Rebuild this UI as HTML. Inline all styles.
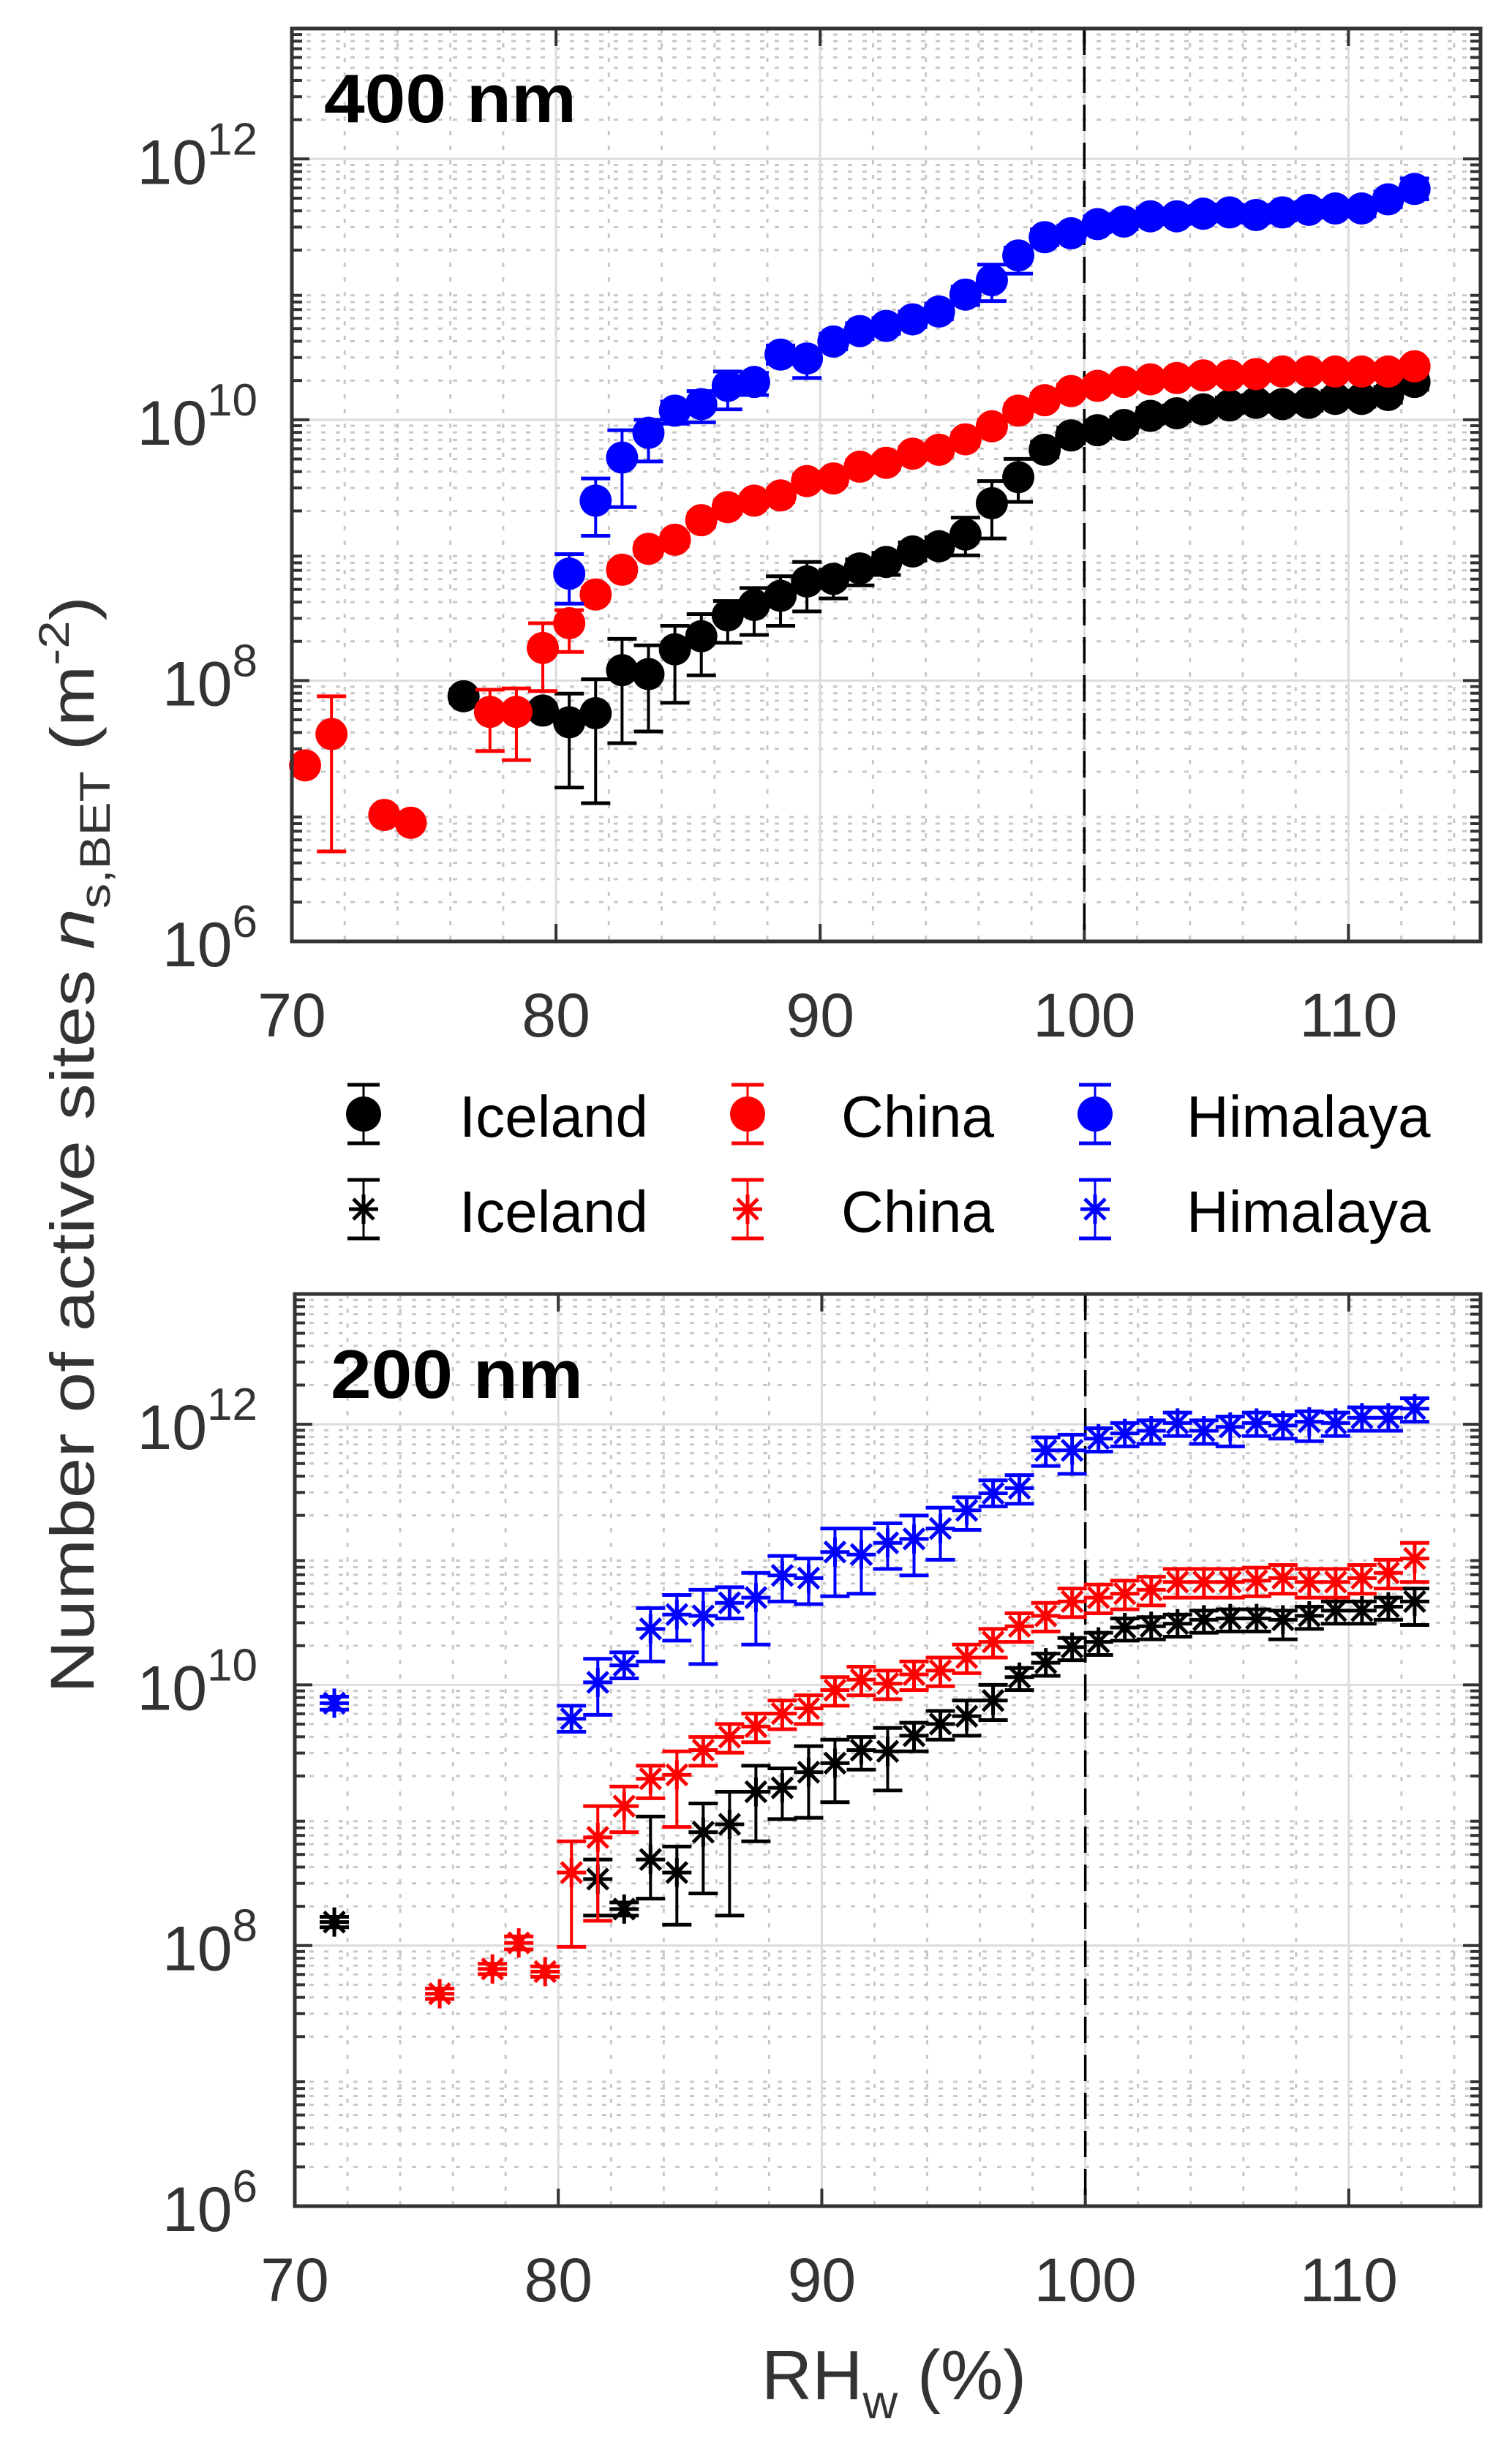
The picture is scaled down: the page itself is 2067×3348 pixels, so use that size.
<!DOCTYPE html>
<html><head><meta charset="utf-8"><style>
html,body{margin:0;padding:0;background:#fff;}
svg{display:block;font-family:"Liberation Sans",Arial,sans-serif;}
</style></head>
<body>
<svg id="chart" width="2067" height="3348" viewBox="0 0 2067 3348" xmlns="http://www.w3.org/2000/svg">
<text transform="translate(128,1565) rotate(-90)" text-anchor="middle" font-size="84" fill="#333" textLength="1500" lengthAdjust="spacingAndGlyphs">Number of active sites <tspan font-style="italic">n</tspan><tspan font-size="58" dy="22">s,BET</tspan><tspan dy="-22"> (m</tspan><tspan font-size="58" dy="-34">-2</tspan><tspan dy="34">)</tspan></text>
<text x="1222" y="3280" text-anchor="middle" font-size="96" fill="#333">RH<tspan font-size="66" dy="26">w</tspan><tspan dy="-26"> (%)</tspan></text>
</svg>
<script>
// ---------- data (log10 of n_s,BET) ----------
const xTicks = [70, 80, 90, 100, 110];
const yTickExps = [6, 8, 10, 12];
const seriesNames = ["Iceland", "China", "Himalaya"];

// 400 nm
const iceland400X = [76.5,79.5,80.5,81.5,82.5,83.5,84.5,85.5,86.5,87.5,88.5,89.5,90.5,91.5,92.5,93.5,94.5,95.5,96.5,97.5,98.5,99.5,100.5,101.5,102.5,103.5,104.5,105.5,106.5,107.5,108.5,109.5,110.5,111.5,112.5];
const iceland400Y = [7.88,7.77,7.68,7.75,8.08,8.05,8.24,8.34,8.50,8.58,8.65,8.76,8.78,8.86,8.91,8.99,9.03,9.12,9.36,9.56,9.77,9.88,9.92,9.96,10.03,10.05,10.08,10.11,10.13,10.12,10.13,10.16,10.16,10.19,10.29];
const iceland400Hi = [.05,.05,.22,.26,.24,.22,.18,.17,.11,.13,.15,.15,.07,.07,.07,.07,.07,.13,.17,.14,.06,.06,.06,.06,.06,.06,.06,.06,.06,.06,.06,.06,.06,.06,.06];
const iceland400Lo = [.05,.05,.50,.69,.56,.44,.41,.30,.21,.23,.23,.23,.15,.13,.10,.07,.07,.16,.27,.19,.06,.06,.06,.06,.06,.06,.06,.06,.06,.06,.06,.06,.06,.06,.06];

const china400X = [70.5,71.5,73.5,74.5,77.5,78.5,79.5,80.5,81.5,82.5,83.5,84.5,85.5,86.5,87.5,88.5,89.5,90.5,91.5,92.5,93.5,94.5,95.5,96.5,97.5,98.5,99.5,100.5,101.5,102.5,103.5,104.5,105.5,106.5,107.5,108.5,109.5,110.5,111.5,112.5];
const china400Y = [7.35,7.59,6.97,6.91,7.76,7.76,8.25,8.44,8.66,8.85,9.01,9.08,9.23,9.33,9.38,9.42,9.53,9.55,9.64,9.67,9.74,9.77,9.85,9.95,10.07,10.15,10.22,10.26,10.29,10.31,10.32,10.34,10.34,10.35,10.37,10.37,10.37,10.37,10.37,10.41];
const china400Hi = [0,.29,0,0,.17,.18,.19,.10,.05,.05,.05,.05,.05,.05,.05,.05,.05,.05,.05,.05,.05,.05,.05,.05,.05,.05,.05,.05,.05,.05,.05,.05,.05,.05,.05,.05,.05,.05,.05,.05];
const china400Lo = [0,.90,0,0,.30,.37,.33,.22,.05,.05,.05,.05,.05,.05,.05,.05,.05,.05,.05,.05,.05,.05,.05,.05,.05,.05,.05,.05,.05,.05,.05,.05,.05,.05,.05,.05,.05,.05,.05,.05];

const himalaya400X = [80.5,81.5,82.5,83.5,84.5,85.5,86.5,87.5,88.5,89.5,90.5,91.5,92.5,93.5,94.5,95.5,96.5,97.5,98.5,99.5,100.5,101.5,102.5,103.5,104.5,105.5,106.5,107.5,108.5,109.5,110.5,111.5,112.5];
const himalaya400Y = [8.82,9.38,9.71,9.90,10.07,10.12,10.26,10.29,10.50,10.47,10.60,10.68,10.72,10.77,10.83,10.96,11.07,11.26,11.40,11.43,11.50,11.52,11.56,11.56,11.58,11.59,11.57,11.59,11.61,11.62,11.62,11.69,11.77];
const himalaya400Hi = [.15,.17,.21,.10,.07,.10,.11,.07,.07,.07,.06,.06,.06,.06,.06,.06,.12,.06,.06,.06,.06,.06,.06,.06,.06,.06,.06,.06,.06,.06,.06,.06,.08];
const himalaya400Lo = [.23,.27,.38,.22,.10,.14,.18,.10,.07,.15,.06,.06,.06,.06,.06,.08,.16,.14,.06,.06,.06,.06,.06,.06,.06,.06,.06,.06,.06,.06,.06,.06,.08];

// 200 nm
const iceland200X = [71.5,81.5,82.5,83.5,84.5,85.5,86.5,87.5,88.5,89.5,90.5,91.5,92.5,93.5,94.5,95.5,96.5,97.5,98.5,99.5,100.5,101.5,102.5,103.5,104.5,105.5,106.5,107.5,108.5,109.5,110.5,111.5,112.5];
const iceland200Y = [8.18,8.51,8.28,8.66,8.56,8.87,8.93,9.18,9.21,9.33,9.40,9.50,9.49,9.61,9.70,9.76,9.88,10.06,10.17,10.29,10.33,10.44,10.45,10.47,10.50,10.51,10.51,10.50,10.53,10.57,10.57,10.60,10.64];
const iceland200Hi = [.04,.15,.05,.33,.20,.22,.25,.20,.15,.20,.18,.10,.18,.10,.10,.12,.12,.07,.07,.07,.07,.07,.07,.07,.07,.07,.07,.07,.07,.07,.07,.07,.10];
const iceland200Lo = [.04,.28,.05,.30,.40,.47,.70,.38,.24,.35,.30,.15,.30,.12,.12,.15,.15,.10,.10,.10,.10,.10,.10,.10,.10,.10,.10,.15,.10,.10,.10,.10,.18];

const china200X = [75.5,77.5,78.5,79.5,80.5,81.5,82.5,83.5,84.5,85.5,86.5,87.5,88.5,89.5,90.5,91.5,92.5,93.5,94.5,95.5,96.5,97.5,98.5,99.5,100.5,101.5,102.5,103.5,104.5,105.5,106.5,107.5,108.5,109.5,110.5,111.5,112.5];
const china200Y = [7.63,7.82,8.02,7.80,8.56,8.83,9.07,9.28,9.31,9.50,9.60,9.68,9.78,9.82,9.96,10.04,10.01,10.08,10.11,10.21,10.33,10.45,10.53,10.64,10.67,10.70,10.73,10.79,10.79,10.79,10.80,10.82,10.79,10.79,10.82,10.86,10.97];
const china200Hi = [.04,.04,.05,.04,.24,.24,.15,.10,.18,.10,.10,.10,.10,.10,.10,.10,.10,.10,.10,.10,.10,.10,.10,.10,.10,.10,.10,.10,.10,.10,.10,.10,.10,.10,.10,.10,.12];
const china200Lo = [.04,.04,.05,.04,.57,.64,.20,.15,.40,.12,.12,.12,.12,.12,.12,.12,.12,.12,.12,.12,.12,.12,.12,.12,.12,.12,.12,.12,.12,.12,.12,.12,.12,.12,.12,.12,.18];

const himalaya200X = [71.5,80.5,81.5,82.5,83.5,84.5,85.5,86.5,87.5,88.5,89.5,90.5,91.5,92.5,93.5,94.5,95.5,96.5,97.5,98.5,99.5,100.5,101.5,102.5,103.5,104.5,105.5,106.5,107.5,108.5,109.5,110.5,111.5,112.5];
const himalaya200Y = [9.86,9.74,10.02,10.15,10.43,10.54,10.53,10.63,10.67,10.84,10.82,11.02,11.00,11.09,11.12,11.20,11.34,11.47,11.51,11.80,11.80,11.89,11.93,11.95,12.01,11.95,11.98,12.01,11.99,12.02,12.01,12.05,12.05,12.12];
const himalaya200Hi = [.05,.10,.18,.10,.16,.15,.20,.12,.19,.15,.15,.18,.20,.15,.18,.16,.10,.10,.10,.10,.12,.08,.08,.08,.08,.08,.08,.08,.08,.08,.08,.08,.08,.08];
const himalaya200Lo = [.05,.10,.25,.10,.25,.20,.37,.12,.36,.20,.20,.34,.30,.20,.28,.24,.15,.10,.12,.12,.18,.10,.10,.10,.10,.10,.15,.10,.10,.15,.10,.10,.10,.10];

// ---------- drawing ----------
const NS = "http://www.w3.org/2000/svg";
const svg = document.getElementById("chart");
function mk(tag, attrs, parent) {
  const e = document.createElementNS(NS, tag);
  for (const k in attrs) e.setAttribute(k, attrs[k]);
  (parent || svg).appendChild(e);
  return e;
}
const AX = "#333";
const colors = ["#000000", "#ff0000", "#0000ff"];

function drawPanel(p) {
  const g = mk("g", {});
  
  
  const xS = v => p.left + (v - 70) / 45 * (p.right - p.left);
  const yS = v => p.bottom - (v - 6) / 7 * (p.bottom - p.top);
  for (let d = 6; d < 13; d++) for (let m = 2; m <= 9; m++) {
    const y = yS(d + Math.log10(m));
    const l = mk("line", {x1: p.left, x2: p.right, y1: y, y2: y, stroke: "#c8c8c8", "stroke-width": 3, "stroke-dasharray": "6 14"}, g);
    
    
    mk("line", {x1: p.left, x2: p.left + 14, y1: y, y2: y, stroke: AX, "stroke-width": 4}, g);
    mk("line", {x1: p.right, x2: p.right - 14, y1: y, y2: y, stroke: AX, "stroke-width": 4}, g);
  }
  for (let x = 72; x < 115; x += 2) {
    if (x % 10 === 0) continue;
    const X = xS(x);
    const l = mk("line", {x1: X, x2: X, y1: p.top, y2: p.bottom, stroke: "#c8c8c8", "stroke-width": 3, "stroke-dasharray": "6 14"}, g);
    
    
  }
  yTickExps.forEach(e => {
    const y = yS(e);
    const l = mk("line", {x1: p.left, x2: p.right, y1: y, y2: y, stroke: "#dcdcdc", "stroke-width": 3}, g);
    
    
    mk("line", {x1: p.left, x2: p.left + 24, y1: y, y2: y, stroke: AX, "stroke-width": 4}, g);
    mk("line", {x1: p.right, x2: p.right - 24, y1: y, y2: y, stroke: AX, "stroke-width": 4}, g);
    const t = mk("text", {x: 352, y: y + 34, "text-anchor": "end", "font-size": 86, fill: AX}, g);
    
    
    t.innerHTML = '10<tspan font-size="62" dy="-40">' + e + '</tspan>';
  });
  xTicks.forEach(v => {
    const X = xS(v);
    const l = mk("line", {x1: X, x2: X, y1: p.top, y2: p.bottom, stroke: "#dcdcdc", "stroke-width": 3}, g);
    
    
    mk("line", {x1: X, x2: X, y1: p.bottom, y2: p.bottom - 24, stroke: AX, "stroke-width": 4}, g);
    mk("line", {x1: X, x2: X, y1: p.top, y2: p.top + 24, stroke: AX, "stroke-width": 4}, g);
    const t = mk("text", {x: X, y: p.bottom + 130, "text-anchor": "middle", "font-size": 84, fill: AX}, g);
    
    
    t.textContent = v;
  });
  const dl = mk("line", {x1: xS(100), x2: xS(100), y1: p.top, y2: p.bottom, stroke: "#000", "stroke-width": 3.5, "stroke-dasharray": "36 16"}, g);
  
  
  p.series.forEach((s, si) => {
    const sg = mk("g", {}, g);
    
    
    const c = colors[si];
    s.x.forEach((xv, i) => {
      const X = xS(xv), Y = yS(s.y[i]);
      const yHi = yS(s.y[i] + s.hi[i]), yLo = yS(s.y[i] - s.lo[i]);
      if (s.hi[i] > 0 || s.lo[i] > 0) {
        mk("line", {x1: X, x2: X, y1: yHi, y2: yLo, stroke: c, "stroke-width": 4}, sg);
        mk("line", {x1: X - 20, x2: X + 20, y1: yHi, y2: yHi, stroke: c, "stroke-width": 5}, sg);
        mk("line", {x1: X - 20, x2: X + 20, y1: yLo, y2: yLo, stroke: c, "stroke-width": 5}, sg);
      }
      if (p.marker === "circle") {
        const m = mk("circle", {cx: X, cy: Y, r: 22, fill: c}, sg);
        
        
      } else {
        const m = mk("path", {d: `M${X-20},${Y}H${X+20}M${X},${Y-20}V${Y+20}M${X-14},${Y-14}L${X+14},${Y+14}M${X-14},${Y+14}L${X+14},${Y-14}`, stroke: c, "stroke-width": 5, fill: "none"}, sg);
        
        
      }
    });
  });
  const fr = mk("rect", {x: p.left, y: p.top, width: p.right - p.left, height: p.bottom - p.top, fill: "none", stroke: AX, "stroke-width": 5}, g);
  
  
  const lab = mk("text", {x: p.labelX, y: p.labelY, "font-size": 94, "font-weight": "bold", fill: "#000", textLength: 345, lengthAdjust: "spacingAndGlyphs"}, g);
  
  
  lab.textContent = p.label;
}

drawPanel({name: "panel-400nm", left: 399, right: 2024, top: 39, bottom: 1287, marker: "circle", label: "400 nm", labelX: 443, labelY: 167,
  series: [
    {x: iceland400X, y: iceland400Y, hi: iceland400Hi, lo: iceland400Lo},
    {x: china400X, y: china400Y, hi: china400Hi, lo: china400Lo},
    {x: himalaya400X, y: himalaya400Y, hi: himalaya400Hi, lo: himalaya400Lo}]});
drawPanel({name: "panel-200nm", left: 403, right: 2024, top: 1769, bottom: 3016, marker: "star", label: "200 nm", labelX: 452, labelY: 1911,
  series: [
    {x: iceland200X, y: iceland200Y, hi: iceland200Hi, lo: iceland200Lo},
    {x: china200X, y: china200Y, hi: china200Hi, lo: china200Lo},
    {x: himalaya200X, y: himalaya200Y, hi: himalaya200Hi, lo: himalaya200Lo}]});

const legend = mk("g", {});


const legMX = [497, 1022, 1497], legTX = [628, 1150, 1622], legRowY = [1523, 1653];
legRowY.forEach((ry, r) => {
  seriesNames.forEach((n, i) => {
    const c = colors[i], X = legMX[i];
    const eg = mk("g", {}, legend);
    
    
    mk("line", {x1: X, x2: X, y1: ry - 40, y2: ry + 40, stroke: c, "stroke-width": 3}, eg);
    mk("line", {x1: X - 22, x2: X + 22, y1: ry - 40, y2: ry - 40, stroke: c, "stroke-width": 5}, eg);
    mk("line", {x1: X - 22, x2: X + 22, y1: ry + 40, y2: ry + 40, stroke: c, "stroke-width": 5}, eg);
    if (r === 0) mk("ellipse", {cx: X, cy: ry, rx: 24, ry: 24, fill: c}, eg);
    else mk("path", {d: `M${X-20},${ry}H${X+20}M${X},${ry-20}V${ry+20}M${X-14},${ry-14}L${X+14},${ry+14}M${X-14},${ry+14}L${X+14},${ry-14}`, stroke: c, "stroke-width": 5, fill: "none"}, eg);
    const t = mk("text", {x: legTX[i], y: ry + 31, "font-size": 80, fill: "#000"}, eg);
    t.textContent = n;
  });
});
</script>
</body></html>
